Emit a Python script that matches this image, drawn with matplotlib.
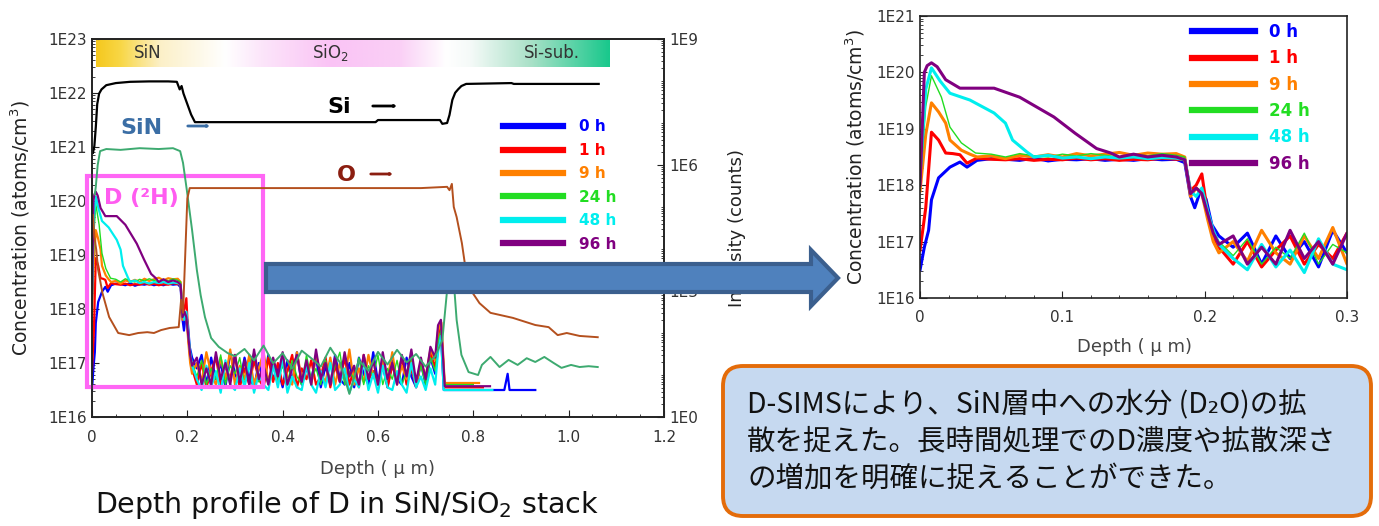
import numpy as np
import matplotlib
matplotlib.use("Agg")
import matplotlib.pyplot as plt
from matplotlib.patches import FancyArrow, FancyArrowPatch, FancyBboxPatch, Rectangle
from matplotlib.ticker import FixedLocator, LogLocator, MultipleLocator, FuncFormatter, NullFormatter

# ---- D (2H) depth profiles: depth (um) and log10 concentration (atoms/cm3)
labels = ['0 h', '1 h', '9 h', '24 h', '48 h', '96 h']
colors = ['#0000FF', '#FF0000', '#FF8000', '#22DD22', '#00EEEE', '#800080']

head_x = {
    '0 h': [0.0, 0.003, 0.006, 0.008, 0.013, 0.021, 0.028, 0.033, 0.04, 0.05,
            0.06, 0.07, 0.08, 0.09, 0.10, 0.11, 0.12, 0.13, 0.14, 0.15,
            0.16, 0.17, 0.18, 0.186, 0.19, 0.193, 0.197, 0.201, 0.205, 0.21],
    '1 h': [0.0, 0.004, 0.008, 0.013, 0.018, 0.023, 0.028, 0.033, 0.04, 0.05,
            0.06, 0.07, 0.08, 0.09, 0.10, 0.11, 0.12, 0.13, 0.14, 0.15,
            0.16, 0.17, 0.18, 0.186, 0.19, 0.194, 0.198, 0.202, 0.206, 0.21],
    '9 h': [0.0, 0.004, 0.008, 0.013, 0.018, 0.021, 0.029, 0.035, 0.04, 0.05,
            0.06, 0.07, 0.08, 0.09, 0.10, 0.11, 0.12, 0.13, 0.14, 0.15,
            0.16, 0.17, 0.18, 0.186, 0.19, 0.194, 0.198, 0.202, 0.206, 0.21],
    '24 h': [0.0, 0.004, 0.008, 0.015, 0.021, 0.029, 0.039, 0.05, 0.06, 0.07,
             0.08, 0.09, 0.10, 0.11, 0.12, 0.13, 0.14, 0.15, 0.16, 0.17,
             0.18, 0.186, 0.19, 0.194, 0.198, 0.202, 0.206, 0.21],
    '48 h': [0.0, 0.004, 0.008, 0.014, 0.021, 0.035, 0.052, 0.06, 0.065, 0.075,
             0.08, 0.09, 0.10, 0.11, 0.12, 0.13, 0.14, 0.15, 0.16, 0.17,
             0.18, 0.186, 0.19, 0.194, 0.198, 0.202, 0.206, 0.21],
    '96 h': [0.0, 0.003, 0.005, 0.008, 0.012, 0.018, 0.028, 0.04, 0.052, 0.07,
             0.094, 0.109, 0.124, 0.134, 0.14, 0.15, 0.16, 0.17, 0.18, 0.186,
             0.19, 0.194, 0.198, 0.202, 0.206, 0.21],
}
head_y = {
    '0 h': [16.5, 16.9, 17.2, 17.74, 18.13, 18.32, 18.41, 18.32, 18.44, 18.47,
            18.46, 18.44, 18.48, 18.43, 18.46, 18.45, 18.47, 18.44, 18.46, 18.44,
            18.47, 18.45, 18.46, 18.4, 17.8, 17.6, 17.9, 17.75, 17.3, 17.1],
    '1 h': [16.85, 17.6, 18.94, 18.8, 18.57, 18.56, 18.54, 18.39, 18.48, 18.46,
            18.45, 18.47, 18.44, 18.46, 18.45, 18.48, 18.45, 18.47, 18.44, 18.46,
            18.45, 18.48, 18.46, 18.45, 17.9, 18.0, 18.2, 17.5, 17.1, 16.9],
    '9 h': [17.9, 18.9, 19.46, 19.3, 19.1, 18.8, 18.62, 18.55, 18.5, 18.52,
            18.47, 18.53, 18.5, 18.54, 18.5, 18.56, 18.52, 18.55, 18.58, 18.53,
            18.57, 18.55, 18.56, 18.5, 17.8, 17.95, 17.85, 17.4, 17.0, 16.8],
    '24 h': [18.0, 19.4, 19.94, 19.56, 19.03, 18.75, 18.57, 18.55, 18.5, 18.56,
             18.52, 18.5, 18.55, 18.52, 18.56, 18.53, 18.5, 18.55, 18.52, 18.56,
             18.53, 18.5, 17.85, 17.95, 17.9, 17.5, 17.2, 17.0],
    '48 h': [18.2, 19.7, 20.08, 19.85, 19.63, 19.51, 19.28, 19.1, 18.8, 18.59,
             18.5, 18.53, 18.48, 18.5, 18.47, 18.5, 18.48, 18.5, 18.47, 18.49,
             18.48, 18.45, 17.9, 17.8, 17.95, 17.55, 17.2, 16.95],
    '96 h': [18.0, 20.0, 20.12, 20.17, 20.1, 19.87, 19.72, 19.72, 19.72, 19.56,
             19.21, 18.92, 18.65, 18.57, 18.5, 18.55, 18.5, 18.53, 18.5, 18.45,
             17.85, 17.95, 17.85, 17.5, 17.15, 16.95],
}

# noise floor in SiO2, one value per 0.01 um from 0.22 to 0.72 um
tail_depth = np.round(np.arange(0.22, 0.725, 0.01), 2)
tail_y = {
    '0 h': [16.90, 17.15, 16.60, 17.10, 16.70, 17.00, 16.55, 17.20, 16.80, 16.60,
            17.10, 16.75, 16.55, 17.00, 16.60, 17.15, 16.70, 16.90, 16.55, 17.05,
            16.65, 17.20, 16.60, 16.90, 16.70, 17.10, 16.55, 16.95, 16.60, 17.15,
            16.70, 16.60, 17.00, 16.55, 17.10, 16.80, 16.60, 17.20, 16.65, 16.95,
            16.55, 17.05, 16.70, 16.60, 17.10, 16.75, 16.55, 17.00, 16.60, 17.10,
            16.80],
    '1 h': [16.60, 17.00, 16.55, 16.85, 17.10, 16.60, 16.95, 16.70, 17.15, 16.55,
            16.90, 16.60, 17.05, 16.70, 16.55, 17.10, 16.65, 17.00, 16.60, 16.85,
            17.15, 16.55, 16.90, 16.70, 17.05, 16.60, 16.75, 17.10, 16.55, 16.95,
            16.65, 17.10, 16.60, 16.90, 16.55, 17.15, 16.70, 16.85, 16.60, 17.05,
            16.55, 16.95, 16.70, 17.10, 16.60, 16.90, 16.55, 17.05, 16.70, 17.20,
            16.90],
    '9 h': [17.00, 16.65, 17.20, 16.80, 16.60, 17.10, 16.70, 17.25, 16.60, 16.95,
            16.70, 17.15, 16.60, 16.90, 17.20, 16.65, 17.00, 16.60, 17.10, 16.75,
            16.60, 17.20, 16.70, 16.95, 16.60, 17.15, 16.80, 16.65, 17.10, 16.60,
            17.00, 16.70, 17.25, 16.60, 16.90, 16.65, 17.15, 16.75, 16.60, 17.05,
            16.70, 17.20, 16.60, 16.95, 16.70, 17.10, 16.60, 17.00, 16.75, 17.25,
            17.05],
    '24 h': [16.75, 17.05, 16.60, 16.90, 16.70, 17.15, 16.60, 16.95, 16.80, 17.10,
             16.60, 16.95, 17.20, 16.65, 16.85, 16.60, 17.10, 16.70, 16.95, 16.60,
             17.05, 16.75, 16.60, 17.15, 16.70, 16.90, 16.60, 17.05, 16.65, 16.95,
             17.20, 16.60, 16.85, 16.70, 17.10, 16.60, 16.95, 16.75, 17.15, 16.60,
             16.90, 16.70, 17.05, 16.60, 16.85, 17.10, 16.65, 16.95, 16.60, 17.10,
             16.85],
    '48 h': [16.70, 16.50, 16.95, 16.55, 16.85, 16.45, 17.05, 16.60, 16.50, 16.90,
             16.55, 17.00, 16.45, 16.80, 16.60, 16.50, 16.95, 16.55, 17.10, 16.45,
             16.75, 16.55, 16.50, 16.95, 16.60, 16.45, 16.85, 16.55, 17.00, 16.50,
             16.60, 16.90, 16.45, 16.70, 16.55, 17.05, 16.50, 16.80, 16.45, 16.95,
             16.55, 16.50, 16.85, 16.60, 16.45, 17.00, 16.55, 16.75, 16.50, 16.90,
             16.60],
    '96 h': [17.10, 16.60, 16.90, 16.60, 17.20, 16.70, 17.00, 16.60, 17.15, 16.65,
             17.05, 16.60, 17.25, 16.70, 16.95, 16.60, 17.10, 16.75, 17.20, 16.60,
             16.90, 17.15, 16.65, 17.05, 16.60, 17.25, 16.70, 17.00, 16.60, 17.10,
             16.65, 17.20, 16.75, 16.95, 16.60, 17.15, 16.70, 17.05, 16.60, 17.20,
             16.70, 17.00, 16.60, 17.15, 16.75, 17.25, 16.65, 17.10, 16.70, 17.30,
             17.10],
}

# SiO2/Si interface pile-up and detection limit in the substrate
end_x = {
    '0 h': [0.726, 0.732, 0.738, 0.865, 0.872, 0.876, 0.93],
    '1 h': [0.726, 0.732, 0.74, 0.82],
    '9 h': [0.726, 0.733, 0.74, 0.812],
    '24 h': [0.726, 0.732, 0.74, 0.80],
    '48 h': [0.726, 0.732, 0.738, 0.84],
    '96 h': [0.726, 0.732, 0.74, 0.835],
}
end_y = {
    '0 h': [17.3, 17.55, 16.5, 16.5, 16.8, 16.5, 16.5],
    '1 h': [17.5, 17.7, 16.55, 16.55],
    '9 h': [17.6, 17.75, 16.63, 16.63],
    '24 h': [17.4, 17.6, 16.6, 16.6],
    '48 h': [17.2, 17.5, 16.5, 16.5],
    '96 h': [17.7, 17.8, 16.57, 16.57],
}

# ---- matrix signals, log10 of intensity (counts)
si_x = [0.002, 0.005, 0.008, 0.011, 0.015, 0.02, 0.03, 0.05, 0.08, 0.12,
        0.16, 0.178, 0.184, 0.188, 0.192, 0.2, 0.208, 0.216, 0.4, 0.595,
        0.6, 0.73, 0.735, 0.745, 0.75, 0.756, 0.762, 0.768, 0.775, 0.785,
        0.88, 0.885, 1.063]
si_y = [6.29, 6.45, 6.9, 7.45, 7.7, 7.8, 7.9, 7.95, 7.98, 7.99,
        7.99, 7.98, 7.8, 7.88, 7.7, 7.45, 7.2, 7.02, 7.02, 7.02,
        7.07, 7.07, 6.98, 7.0, 7.19, 7.55, 7.72, 7.8, 7.88, 7.93,
        7.95, 7.93, 7.93]

sin_x = [0.006, 0.008, 0.012, 0.017, 0.03, 0.06, 0.1, 0.14, 0.17, 0.185,
         0.191, 0.199, 0.21, 0.22, 0.228, 0.237, 0.25, 0.266, 0.285,
         0.30, 0.32, 0.34, 0.36, 0.38, 0.40, 0.42, 0.44, 0.46, 0.48, 0.50,
         0.52, 0.54, 0.56, 0.58, 0.60, 0.62, 0.64, 0.66, 0.68, 0.70, 0.72,
         0.735, 0.745, 0.752, 0.758, 0.765, 0.775, 0.79, 0.81,
         0.818, 0.836, 0.855, 0.874, 0.893, 0.912, 0.93, 0.949, 0.968, 0.985,
         1.005, 1.023, 1.042, 1.061]
sin_y = [5.3, 5.48, 6.0, 6.33, 6.38, 6.36, 6.4, 6.38, 6.4, 6.33,
         6.05, 5.4, 4.45, 3.5, 2.9, 2.38, 1.88, 1.67, 1.52,
         1.45, 1.62, 1.35, 1.70, 1.28, 1.52, 1.15, 1.58, 1.40, 1.20, 1.65,
         1.30, 0.55, 1.35, 1.10, 1.55, 1.25, 1.60, 1.30, 1.50, 1.20, 1.45,
         1.83, 3.02, 3.67, 3.38, 2.31, 1.48, 1.07, 1.0,
         1.24, 1.43, 1.19, 1.36, 1.24, 1.40, 1.31, 1.43, 1.29, 1.17,
         1.24, 1.19, 1.21, 1.19]

o_x = [0.002, 0.005, 0.009, 0.013, 0.022, 0.036, 0.055, 0.078, 0.097, 0.116,
       0.13, 0.145, 0.163, 0.182, 0.187, 0.191, 0.195, 0.2, 0.205, 0.3,
       0.5, 0.69, 0.745, 0.75, 0.755, 0.759, 0.765, 0.776, 0.782, 0.79,
       0.813, 0.836, 0.883, 0.93, 0.958, 0.977, 0.996, 1.023, 1.061]
o_y = [4.81, 4.3, 3.98, 3.5, 2.95, 2.38, 2.0, 1.95, 2.0, 2.02,
       2.0, 2.07, 2.12, 2.14, 2.79, 2.48, 3.67, 5.2, 5.45, 5.45,
       5.45, 5.45, 5.48, 5.4, 5.55, 5.0, 4.76, 4.14, 3.67, 3.10,
       2.71, 2.48, 2.36, 2.19, 2.14, 1.95, 2.0, 1.93, 1.90]


def d_profile(lab):
    x = np.concatenate([head_x[lab], tail_depth, end_x[lab]])
    y = 10 ** np.concatenate([head_y[lab], tail_y[lab], end_y[lab]])
    return x, y


def exp_fmt(v, pos):
    return "1E%d" % int(round(np.log10(v)))


def style_axis(a):
    for s in a.spines.values():
        s.set_color('#222222')
        s.set_linewidth(1.2)
    a.tick_params(which='both', direction='in', colors='#222222',
                  labelcolor='#333333', labelsize=11)
    a.tick_params(which='major', length=5)
    a.tick_params(which='minor', length=2.5)
    a.tick_params(axis='x', pad=9)


fig = plt.figure(figsize=(13.79, 5.26), dpi=100)

# ---------------- left chart: full stack ----------------
ax = fig.add_axes([0.0667, 0.2072, 0.4148, 0.7187])
ax.set_xlim(0, 1.2)
ax.set_yscale('log')
ax.set_ylim(1e16, 1e23)
for lab, c in zip(labels, colors):
    x, y = d_profile(lab)
    ax.plot(x, y, color=c, lw=1.0 if lab == '24 h' else 1.6, label=lab)
ax.xaxis.set_major_locator(MultipleLocator(0.2))
ax.xaxis.set_minor_locator(MultipleLocator(0.05))
ax.xaxis.set_major_formatter(FuncFormatter(lambda v, p: "0" if v == 0 else "%.1f" % v))
ax.yaxis.set_major_locator(LogLocator(base=10, numticks=20))
ax.yaxis.set_minor_locator(LogLocator(base=10, subs=np.arange(2, 10), numticks=100))
ax.yaxis.set_major_formatter(FuncFormatter(exp_fmt))
ax.yaxis.set_minor_formatter(NullFormatter())
style_axis(ax)
ax.tick_params(top=False, which='both')
ax.set_xlabel("Depth ( μ m)", fontsize=13, color='#444444')
ax.xaxis.set_label_coords(0.5, -0.115)
ax.set_ylabel("Concentration (atoms/cm$^3$)", fontsize=13.5, color='#222222')
ax.yaxis.set_label_coords(-0.105, 0.5)

leg = ax.legend(loc='upper left', bbox_to_anchor=(0.7185, 0.787), frameon=False,
                borderpad=0, borderaxespad=0, handlelength=3.9, handletextpad=1.1,
                labelspacing=0.55, labelcolor='linecolor',
                prop={'weight': 'bold', 'size': 11})
for h in leg.legend_handles:
    h.set_linewidth(4.5)

# layer band across the top of the frame
band_px = [96, 120, 160, 225, 260, 330, 400, 446, 470, 530, 609]
band_rgb = np.array([[245, 200, 30], [248, 215, 70], [252, 240, 200], [255, 255, 255],
                     [252, 230, 250], [250, 195, 245], [250, 208, 246], [255, 255, 255],
                     [245, 250, 248], [170, 225, 200], [25, 200, 140]]) / 255.0
cols = np.linspace(96, 609, 400)
grad = np.stack([np.interp(cols, band_px, band_rgb[:, k]) for k in range(3)], axis=-1)
ax.imshow(grad[np.newaxis, :, :], extent=[0.007, 0.904, 0.926, 1.0], transform=ax.transAxes,
          aspect='auto', zorder=1)
ax.text(0.097, 0.963, "SiN", transform=ax.transAxes, ha='center', va='center', fontsize=12, color='#333333', zorder=3)
ax.text(0.416, 0.963, "SiO$_2$", transform=ax.transAxes, ha='center', va='center', fontsize=12, color='#333333', zorder=3)
ax.text(0.804, 0.963, "Si-sub.", transform=ax.transAxes, ha='center', va='center', fontsize=12, color='#333333', zorder=3)

ax.add_patch(Rectangle((-0.01, 10 ** 16.56), 0.368, 10 ** 20.46 - 10 ** 16.56, fill=False,
                       ec='#FF66F5', lw=3, clip_on=False, zorder=4))

ax2 = ax.twinx()
ax2.set_yscale('log')
ax2.set_ylim(1e0, 1e9)
ax2.plot(si_x, 10 ** np.array(si_y), color='black', lw=1.6)
ax2.plot(sin_x, 10 ** np.array(sin_y), color='#3DAA70', lw=1.4)
ax2.plot(o_x, 10 ** np.array(o_y), color='#B4501E', lw=1.4)
ax2.yaxis.set_major_locator(FixedLocator([1e0, 1e3, 1e6, 1e9]))
ax2.yaxis.set_minor_locator(LogLocator(base=10, subs=np.arange(1, 10), numticks=100))
ax2.yaxis.set_major_formatter(FuncFormatter(exp_fmt))
ax2.yaxis.set_minor_formatter(NullFormatter())
style_axis(ax2)
ax2.set_ylabel("Intensity (counts)", fontsize=13, color='#222222')
ax2.yaxis.set_label_coords(1.112, 0.5)

# series annotations
fig.text(0.0870, 0.7567, "SiN", fontsize=16, weight='bold', color='#3B6EA5', va='center')
fig.text(0.2371, 0.7966, "Si", fontsize=16, weight='bold', color='black', va='center')
fig.text(0.2444, 0.6673, "O", fontsize=16, weight='bold', color='#8B1E10', va='center')
fig.text(0.0754, 0.6236, "D (²H)", fontsize=16, weight='bold', color='#FF5CF0', va='center')
for x0, x1, yy, c in [(185, 213, 400, '#3B6EA5'), (370, 400, 420, 'black'), (368, 396, 352, '#8B1E10')]:
    fig.add_artist(FancyArrowPatch((x0 / 1379, yy / 526), (x1 / 1379, yy / 526),
                                   transform=fig.transFigure,
                                   arrowstyle='->,head_length=0.7,head_width=0.35',
                                   color=c, lw=2))

fig.text(0.2516, 0.0399, "Depth profile of D in SiN/SiO$_2$ stack", ha='center', va='center',
         fontsize=20.5, color='#111111')

# ---------------- right chart: zoom of the SiN layer ----------------
bx = fig.add_axes([0.6672, 0.4335, 0.3096, 0.5361])
bx.set_xlim(0, 0.3)
bx.set_yscale('log')
bx.set_ylim(1e16, 1e21)
for lab, c in zip(labels, colors):
    x, y = d_profile(lab)
    bx.plot(x, y, color=c, lw=1.0 if lab == '24 h' else 2.2, label=lab)
bx.xaxis.set_major_locator(MultipleLocator(0.1))
bx.xaxis.set_minor_locator(MultipleLocator(0.02))
bx.xaxis.set_major_formatter(FuncFormatter(lambda v, p: "0" if v == 0 else "%.1f" % v))
bx.yaxis.set_major_locator(LogLocator(base=10, numticks=20))
bx.yaxis.set_minor_locator(LogLocator(base=10, subs=np.arange(2, 10), numticks=100))
bx.yaxis.set_major_formatter(FuncFormatter(exp_fmt))
bx.yaxis.set_minor_formatter(NullFormatter())
style_axis(bx)
bx.tick_params(top=False, right=False, which='both')
bx.set_xlabel("Depth ( μ m)", fontsize=13, color='#444444')
bx.xaxis.set_label_coords(0.503, -0.142)
bx.set_ylabel("Concentration (atoms/cm$^3$)", fontsize=13.5, color='#222222')
bx.yaxis.set_label_coords(-0.124, 0.5)
leg2 = bx.legend(loc='upper left', bbox_to_anchor=(0.637, 0.975), frameon=False,
                 borderpad=0, borderaxespad=0, handlelength=3.8, handletextpad=0.8,
                 labelspacing=0.5, labelcolor='linecolor',
                 prop={'weight': 'bold', 'size': 12})
for h in leg2.legend_handles:
    h.set_linewidth(4.5)

# big arrow from the left box to the zoomed chart
fig.add_artist(FancyArrow(2.66, 2.48, 5.72, 0.0, width=0.28, head_width=0.56, head_length=0.27,
                          length_includes_head=True, transform=fig.dpi_scale_trans,
                          fc='#4F81BD', ec='#3B5F8E', lw=3, zorder=10))

# summary box
fig.add_artist(FancyBboxPatch((7.23, 0.10), 6.48, 1.50, boxstyle='round,pad=0,rounding_size=0.2',
                              transform=fig.dpi_scale_trans, fc='#C6D9F0', ec='#E46C0A', lw=2.8, zorder=10))
fig.text(7.47 / 13.79, 0.845 / 5.26,
         "D-SIMSにより、SiN層中への水分 (D₂O)の拡\n散を捉えた。長時間処理でのD濃度や拡散深さ\nの増加を明確に捉えることができた。",
         family=['Noto Sans CJK JP', 'DejaVu Sans'], fontsize=20.5, color='#111111',
         va='center', ha='left', linespacing=1.3, zorder=11)

fig.savefig("out.png", dpi=100)
